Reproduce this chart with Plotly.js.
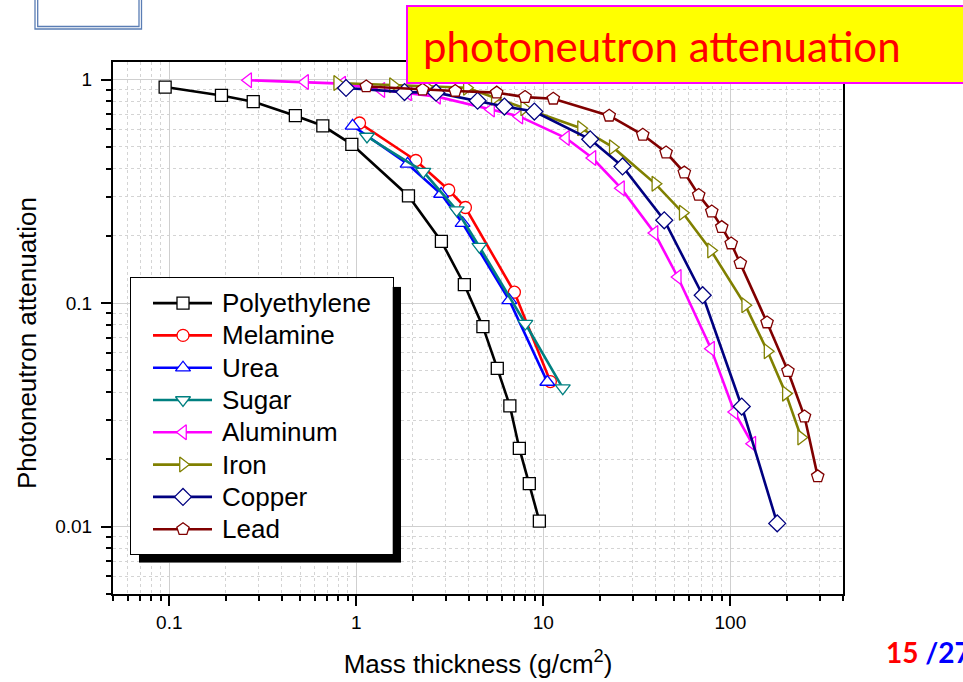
<!DOCTYPE html>
<html>
<head>
<meta charset="utf-8">
<script src="https://cdn.plot.ly/plotly-3.0.1.min.js"></script>
<style>
html,body{margin:0;padding:0;background:#fff;}
#chart{width:963px;height:682px;}
</style>
</head>
<body>
<div id="chart"></div>
<script>
// ---- data ----
const seriesNames = ["Polyethylene","Melamine","Urea","Sugar","Aluminum","Iron","Copper","Lead"];

const polyethyleneX = [0.095,0.19,0.281,0.472,0.662,0.946,1.9,2.85,3.78,4.75,5.67,6.62,7.44,8.41,9.52];
const polyethyleneY = [0.927,0.850,0.797,0.690,0.622,0.514,0.302,0.189,0.121,0.0785,0.0511,0.0347,0.0224,0.0156,0.0106];

const melamineX = [1.04,2.08,3.12,3.83,7.0,10.9];
const melamineY = [0.640,0.435,0.321,0.268,0.112,0.0446];

const ureaX = [0.955,1.88,2.84,3.70,6.58,10.5];
const ureaY = [0.622,0.420,0.308,0.228,0.103,0.0444];

const sugarX = [1.14,2.28,3.44,4.55,8.01,12.7];
const sugarY = [0.557,0.388,0.261,0.179,0.0811,0.0417];

const aluminumX = [0.264,0.532,0.84,1.36,1.89,2.7,5.25,7.44,13.2,18.3,26.0,39.3,52.3,78.8,105,131];
const aluminumY = [0.995,0.977,0.96,0.90,0.87,0.84,0.736,0.685,0.548,0.446,0.327,0.206,0.131,0.0626,0.0326,0.0235];

const ironX = [0.79,1.57,2.36,3.9,5.5,7.9,15.9,23.5,39.7,55.6,78.8,120,158,198,239];
const ironY = [0.966,0.945,0.93,0.92,0.83,0.745,0.607,0.499,0.342,0.254,0.172,0.098,0.0609,0.0394,0.0251];

const copperX = [0.881,1.81,2.67,4.45,6.19,8.95,17.8,26.5,44.3,71.1,115,178];
const copperY = [0.918,0.88,0.875,0.805,0.758,0.72,0.541,0.409,0.235,0.1086,0.0345,0.01035];

const leadX = [1.13,2.26,3.38,5.63,7.98,11.3,22.5,34.0,45.3,56.7,67.7,79.5,89.9,101,113,157,203,249,293];
const leadY = [0.933,0.902,0.89,0.875,0.836,0.822,0.690,0.567,0.472,0.384,0.305,0.257,0.219,0.185,0.151,0.082,0.0497,0.0311,0.0168];

const xTickVals = [0.1,1,10,100];
const xTickText = ["0.1","1","10","100"];
const yTickVals = [0.01,0.1,1];
const yTickText = ["0.01","0.1","1"];

// ---- styling ----
const seriesX = [polyethyleneX,melamineX,ureaX,sugarX,aluminumX,ironX,copperX,leadX];
const seriesY = [polyethyleneY,melamineY,ureaY,sugarY,aluminumY,ironY,copperY,leadY];
const colors = ["#000000","#ff0000","#0000ff","#008080","#ff00ff","#808000","#000080","#800000"];
const symbols = ["square","circle","triangle-up","triangle-down","triangle-left","triangle-right","diamond","pentagon"];
const sizes = [12,12,13,13,13,13,13,13];

const font = "Liberation Sans, Arial, sans-serif";

const traces = seriesNames.map((n,i)=>({
  type:"scatter", mode:"lines+markers", name:n, showlegend:false,
  x:seriesX[i], y:seriesY[i], xaxis:"x", yaxis:"y",
  line:{color:colors[i], width:2.6},
  marker:{symbol:symbols[i], size:sizes[i], color:"#ffffff", line:{color:colors[i], width:1.3}}
}));

// pixel helpers (plot frame in the 963x682 page)
const L=113, R=843, T=62, B=594;
const W=963, H=682;
function px(x){return (x-L)/(R-L);}
function py(y){return 1-(y-T)/(B-T);}

// custom legend geometry (pixels)
const legBox = {x0:130.7, x1:392.7, y0:278.3, y1:554};
const legShadow = {x0:139, x1:401, y0:286.7, y1:562.7};
const legW = legBox.x1-legBox.x0, legHt = legBox.y1-legBox.y0;
const rowTop = 24.8, rowStep = 32.3;
const lineX0 = 22.3, lineX1 = 81.3, symX = 52.3, textX = 89.3;

// empty trace so the shadow subplot exists
traces.push({type:"scatter", x:[], y:[], xaxis:"x2", yaxis:"y2", showlegend:false, hoverinfo:"skip"});

const legendAnnotations = [];
seriesNames.forEach((n,i)=>{
  const yc = rowTop + i*rowStep;
  traces.push({type:"scatter", mode:"lines", x:[lineX0,lineX1], y:[yc,yc], xaxis:"x3", yaxis:"y3",
    showlegend:false, hoverinfo:"skip", line:{color:colors[i], width:2.6}});
  traces.push({type:"scatter", mode:"markers", x:[symX], y:[yc], xaxis:"x3", yaxis:"y3",
    showlegend:false, hoverinfo:"skip",
    marker:{symbol:symbols[i], size:sizes[i], color:"#ffffff", line:{color:colors[i], width:1.3}}});
  legendAnnotations.push({xref:"x3", yref:"y3", x:textX, y:yc, xanchor:"left", yanchor:"middle",
    showarrow:false, text:n, font:{family:font, size:26, color:"#000"}});
});

function minorVals(lo, hi){
  const out=[];
  for(let e=-4;e<=4;e++){
    for(let d=2;d<=9;d++){
      const v = d*Math.pow(10,e);
      if(v>=lo*0.999 && v<=hi*1.001) out.push(v);
    }
  }
  return out;
}

const hiddenAxis = {showline:false, showgrid:false, zeroline:false, ticks:"", showticklabels:false, fixedrange:true};

const layout = {
  width:W, height:H, autosize:false,
  margin:{l:L, r:W-R, t:T, b:H-B, pad:0},
  paper_bgcolor:"#ffffff", plot_bgcolor:"#ffffff",
  font:{family:font, color:"#000"},
  showlegend:false,
  xaxis:{
    type:"log", range:[Math.log10(0.05), Math.log10(400)], domain:[0,1], anchor:"y",
    tickmode:"array", tickvals:xTickVals, ticktext:xTickText,
    ticks:"outside", ticklen:10, tickwidth:2, tickcolor:"#000",
    showline:true, linewidth:2, linecolor:"#000", mirror:true,
    showgrid:true, gridcolor:"#cfcfcf", gridwidth:1, zeroline:false,
    tickfont:{family:font, size:19, color:"#000"},
    minor:{tickmode:"array", tickvals:minorVals(0.05,400), ticks:"outside", ticklen:5, tickwidth:2, tickcolor:"#000",
           showgrid:true, gridcolor:"#d4d4d4", griddash:"dot", gridwidth:1},
    title:{text:"Mass thickness (g/cm<sup>2</sup>)", font:{family:font, size:26, color:"#000"}, standoff:23}
  },
  yaxis:{
    type:"log", range:[Math.log10(0.005), Math.log10(1.2)], domain:[0,1], anchor:"x",
    tickmode:"array", tickvals:yTickVals, ticktext:yTickText,
    ticks:"outside", ticklen:10, tickwidth:2, tickcolor:"#000",
    showline:true, linewidth:2, linecolor:"#000", mirror:true,
    showgrid:true, gridcolor:"#cfcfcf", gridwidth:1, zeroline:false,
    tickfont:{family:font, size:19, color:"#000"}, ticklabelstandoff:5,
    minor:{tickmode:"array", tickvals:minorVals(0.005,1.2), ticks:"outside", ticklen:5, tickwidth:2, tickcolor:"#000",
           showgrid:true, gridcolor:"#d4d4d4", griddash:"dot", gridwidth:1}
  },
  // shadow subplot
  xaxis2:Object.assign({domain:[px(legShadow.x0), px(legShadow.x1)], range:[0,1], anchor:"y2"}, hiddenAxis),
  yaxis2:Object.assign({domain:[py(legShadow.y1), py(legShadow.y0)], range:[0,1], anchor:"x2"}, hiddenAxis),
  // legend subplot
  xaxis3:Object.assign({}, hiddenAxis, {domain:[px(legBox.x0), px(legBox.x1)], range:[0,legW], anchor:"y3",
    showline:true, linewidth:1, linecolor:"#000", mirror:true}),
  yaxis3:Object.assign({}, hiddenAxis, {domain:[py(legBox.y1), py(legBox.y0)], range:[legHt,0], anchor:"x3",
    showline:true, linewidth:1, linecolor:"#000", mirror:true}),
  shapes:[
    // legend shadow (inside shadow subplot, below the legend box subplot)
    {type:"rect", xref:"x2", yref:"y2", x0:0, x1:1, y0:0, y1:1, fillcolor:"#000", line:{width:0}, layer:"below"},
    // title box
    {type:"rect", xref:"paper", yref:"paper", x0:px(407), x1:px(990), y0:py(83), y1:py(6),
     fillcolor:"#ffff00", line:{color:"#ff00ff", width:2}, layer:"above"},
    // top-left decorative double box
    {type:"rect", xref:"paper", yref:"paper", x0:px(35), x1:px(141.5), y0:py(29), y1:py(-10),
     fillcolor:"rgba(0,0,0,0)", line:{color:"#5a7db4", width:1.3}, layer:"above"},
    {type:"rect", xref:"paper", yref:"paper", x0:px(37.7), x1:px(139), y0:py(26.5), y1:py(-10),
     fillcolor:"rgba(0,0,0,0)", line:{color:"#5a7db4", width:1.3}, layer:"above"}
  ],
  annotations:[
    // y axis title (placed to match the reference)
    {xref:"paper", yref:"paper", x:px(27), y:py(343), xanchor:"center", yanchor:"middle", showarrow:false,
     textangle:-90, text:"Photoneutron attenuation", font:{family:font, size:26, color:"#000"}},
    {xref:"paper", yref:"paper", x:px(662), y:py(46), xanchor:"center", yanchor:"middle", showarrow:false,
     text:"photoneutron attenuation", font:{family:"Lato, Open Sans, sans-serif", size:42, color:"#ff0000"}},
    {xref:"paper", yref:"paper", x:px(884), y:py(652), xanchor:"left", yanchor:"middle", showarrow:false,
     text:"<b><span style='color:#ff0000'>15</span><span style='color:#0000ff'> /27</span></b>",
     font:{family:"Lato, Open Sans, sans-serif", size:28}}
  ].concat(legendAnnotations)
};

Plotly.newPlot("chart", traces, layout, {displayModeBar:false, staticPlot:true});
</script>
</body>
</html>
